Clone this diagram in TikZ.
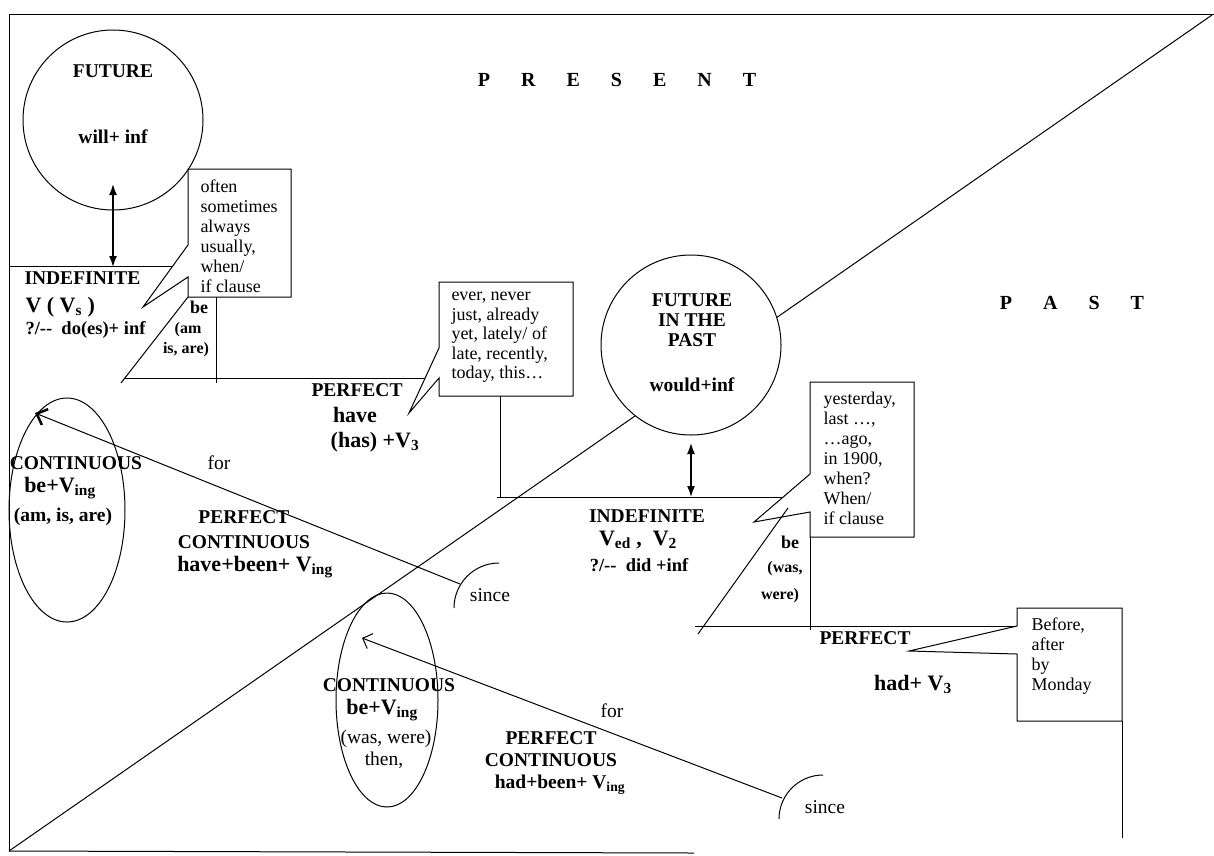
\documentclass[tikz,border=0pt]{standalone}
\usepackage{fontspec}
\setmainfont{Liberation Serif}
\usetikzlibrary{arrows.meta}
\newcommand{\gap}{\hspace{31pt}}
\tikzset{
	tense/.style={font=\bfseries\fontsize{19.5}{20}\selectfont,inner sep=0pt,align=center},
	form/.style={font=\bfseries\fontsize{22}{24}\selectfont,inner sep=0pt},
	bebox/.style={font=\bfseries\fontsize{16}{20}\selectfont,inner sep=0pt},
	word/.style={font=\fontsize{19.5}{20}\selectfont,inner sep=0pt},
	note/.style={font=\fontsize{18}{20}\selectfont,inner sep=0pt,align=left,anchor=north west,execute at begin node=\strut},
	callout/.style={draw,fill=white},
}
\begin{document}
\begin{tikzpicture}[x=1pt,y=-1pt,line width=1pt,>={Latex[length=11pt,width=8pt]}]
	\useasboundingbox (0,0) rectangle (1214,855);
	\draw (9,851) -- (9,14) -- (1214,14);%frame
	\draw (9,851) -- (694,853);%frame bottom
	\draw (1212,15) -- (9,851);%present / past border
	\node[font=\bfseries\fontsize{20}{20}\selectfont] (present) at (617,80) {P\gap R\gap E\gap S\gap E\gap N\gap T};
	\node[font=\bfseries\fontsize{20}{20}\selectfont] (past) at (1072,303) {P\gap A\gap S\gap T};
	% future
	\node[circle,draw,fill=white,minimum size=180pt] (fut) at (113,120) {};
	\node[tense] (futT) at (113,71) {FUTURE};
	\node[tense] (futF) at (113,137) {will+ inf};
	\coordinate (futA) at (113,184);
	\coordinate (indA) at (113,267);
	\draw[<->,line width=1.5pt] (futA) -- (indA);
	\draw (9,266) -- (173,266);
	% present indefinite
	\draw[callout] (188,169) -- (291,169) -- (291,297) -- (188,297) -- (188,277) -- (143,307) -- (188,245) -- cycle;
	\node[note] (often) at (200,179) {often\\sometimes\\always\\usually,\\when/\\if clause};
	\node[tense,anchor=west] (ind) at (24,278) {INDEFINITE};
	\node[form,anchor=west] (indF) at (25,307) {V ( V\textsubscript{s} )};
	\node[font=\bfseries\fontsize{18.5}{20}\selectfont,inner sep=0pt,anchor=west] (indQ) at (25,330) {?/-{}-\ \ do(es)+ inf};
	\draw (121,383) -- (188,297);
	\draw (216,297) -- (216,383);
	\draw (124,378) -- (425,378);
	\node[font=\bfseries\fontsize{18}{20}\selectfont,inner sep=0pt] (be) at (199,307) {be};
	\node[bebox] (am) at (188,330) {(am};
	\node[bebox] (isare) at (186,350) {is, are)};
	% present perfect
	\draw[callout] (439,282) -- (573,282) -- (573,396) -- (439,396) -- (439,378) -- (409,413) -- (439,348) -- cycle;
	\node[note,font=\fontsize{18}{19.5}\selectfont] (ever) at (451,292) {ever, never\\just, already\\yet, lately/ of\\late, recently,\\today, this…};
	\node[tense] (per) at (357,390) {PERFECT};
	\node[form] (have) at (355,415) {have};
	\node[form] (has) at (375,442) {(has) +V\textsubscript{3}};
	\draw (500,396) -- (500,498);
	% present continuous
	\draw (67,510) ellipse [x radius=58,y radius=112];
	\node[tense] (con) at (76,463) {CONTINUOUS};
	\node[form] (being) at (60,488) {be+V\textsubscript{ing}};
	\node[tense] (amis) at (63,517) {(am, is, are)};
	% present perfect continuous
	\node[word] (for) at (219,463) {for};
	\node[tense] (pc) at (244,530) {PERFECT\\[5pt]CONTINUOUS};
	\node[form] (pcF) at (255,567) {have+been+ V\textsubscript{ing}};
	\coordinate (since) at (460,584);
	\coordinate (conA) at (35,413);
	\draw[-{Straight Barb[length=9pt,width=17pt,line width=2.5pt]}] (since) -- (conA);
	\draw (454,608) arc[start angle=180,end angle=270,radius=45];
	\node[word] (sinceT) at (490,595) {since};
	% future in the past
	\node[circle,draw,fill=white,minimum size=180pt] (fip) at (691,345) {};
	\node[tense] (fipT) at (692,320) {FUTURE\\IN THE\\PAST};
	\node[tense] (fipF) at (692,385) {would+inf};
	\coordinate (fipA) at (691,443);
	\coordinate (indpA) at (691,497);
	\draw[<->,line width=1.5pt] (fipA) -- (indpA);
	% past indefinite
	\draw (497,497) -- (783,497);
	\draw[callout] (810,382) -- (914,382) -- (914,537) -- (810,537) -- (810,512) -- (754,522) -- (810,474) -- cycle;
	\node[note] (yest) at (823,391) {yesterday,\\last …,\\…ago,\\in 1900,\\when?\\When/\\if clause};
	\node[tense] (indp) at (647,516) {INDEFINITE};
	\node[form] (indpF) at (638,540) {V\textsubscript{ed} ,\ \ V\textsubscript{2}};
	\node[font=\bfseries\fontsize{18.5}{20}\selectfont,inner sep=0pt] (indpQ) at (639,565) {?/-{}-\ \ did +inf};
	\draw (698,634) -- (788,508);
	\draw (810,537) -- (810,630);
	\draw (695,626) -- (1017,626);
	\node[font=\bfseries\fontsize{18}{20}\selectfont,inner sep=0pt] (bep) at (790,542) {be};
	\node[bebox] (was) at (785,569) {(was,};
	\node[bebox] (were) at (780,596) {were)};
	% past perfect
	\draw[callout] (1017,608) -- (1122,608) -- (1122,721) -- (1017,721) -- (1017,654) -- (909,651) -- (1017,626) -- cycle;
	\node[note] (before) at (1031,617) {Before,\\after\\by\\Monday};
	\draw (1122,721) -- (1122,838);
	\node[tense] (perp) at (865,638) {PERFECT};
	\node[form] (had) at (913,684) {had+ V\textsubscript{3}};
	% past continuous
	\draw (387,700) ellipse [x radius=51,y radius=107];
	\node[tense] (conp) at (389,685) {CONTINUOUS};
	\node[form] (beingp) at (382,710) {be+V\textsubscript{ing}};
	\node[word] (waswere) at (386,739) {(was, were)};
	\node[word] (then) at (384,760) {then,};
	% past perfect continuous
	\node[word] (forp) at (612,711) {for};
	\node[tense] (pcp) at (551,749) {PERFECT\\[2pt]CONTINUOUS};
	\node[tense] (pcpF) at (560,785) {had+been+ V\textsubscript{ing}};
	\coordinate (sincep) at (782,798);
	\coordinate (conpA) at (362,638);
	\draw[-{Straight Barb[length=8pt,width=16pt]}] (sincep) -- (conpA);
	\draw (779,819) arc[start angle=180,end angle=270,radius=44];
	\node[word] (sincepT) at (825,807) {since};
\end{tikzpicture}
\end{document}
